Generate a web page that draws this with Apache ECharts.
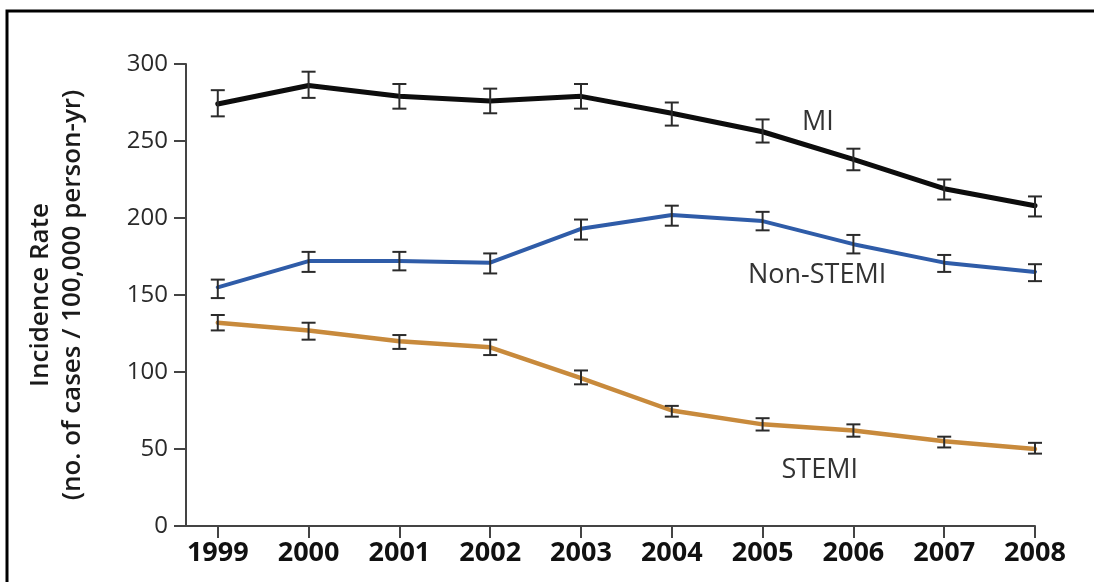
<!DOCTYPE html>
<html>
<head>
<meta charset="utf-8">
<title>Incidence Rate of MI, Non-STEMI and STEMI, 1999–2008</title>
<script src="https://cdn.jsdelivr.net/npm/echarts@6/dist/echarts.min.js"></script>
<style>
  html, body { margin: 0; padding: 0; background: #fff; }
  #chart { width: 1094px; height: 582px; }
</style>
</head>
<body>
<div id="chart"></div>
<script>
// Years on the x axis
const years = [1999, 2000, 2001, 2002, 2003, 2004, 2005, 2006, 2007, 2008];

// Incidence per 100,000 person-years with confidence limits
const miRate   = [274, 286, 279, 276, 279, 268, 256, 238, 219, 208];
const miLow    = [266, 278, 271, 268, 271, 260, 249, 231, 212, 201];
const miHigh   = [283, 295, 287, 284, 287, 275, 264, 245, 225, 214];

const nstemiRate = [155, 172, 172, 171, 193, 202, 198, 183, 171, 165];
const nstemiLow  = [148, 165, 166, 164, 186, 195, 192, 177, 165, 159];
const nstemiHigh = [160, 178, 178, 177, 199, 208, 204, 189, 176, 170];

const stemiRate = [132, 127, 120, 116, 96, 75, 66, 62, 55, 50];
const stemiLow  = [127, 121, 115, 111, 92, 71, 62, 58, 51, 47];
const stemiHigh = [137, 132, 124, 121, 101, 78, 70, 66, 58, 54];

// Y axis tick values
const yTicks = [0, 50, 100, 150, 200, 250, 300];

// Series labels and where they sit (in data coordinates)
const seriesNames = ['MI', 'Non-STEMI', 'STEMI'];
const labelSpots = [[2005.61, 262], [2005.6, 163], [2005.63, 36]];

const FONT = '"Open Sans", "Liberation Sans", sans-serif';
const colors = ['#0d0d0d', '#2f5ca8', '#c88a3c'];

function pairs(vals) { return years.map((y, i) => [y, vals[i]]); }
function bars(lo, hi) { return years.map((y, i) => [y, lo[i], hi[i]]); }

function renderErrorBar(params, api) {
  const x = api.value(0);
  const top = api.coord([x, api.value(2)]);
  const bot = api.coord([x, api.value(1)]);
  const half = 7;
  const style = { stroke: '#2b2b2b', lineWidth: 2, fill: null };
  return {
    type: 'group',
    children: [
      { type: 'line', shape: { x1: top[0], y1: top[1], x2: bot[0], y2: bot[1] }, style },
      { type: 'line', shape: { x1: top[0] - half, y1: top[1], x2: top[0] + half, y2: top[1] }, style },
      { type: 'line', shape: { x1: bot[0] - half, y1: bot[1], x2: bot[0] + half, y2: bot[1] }, style }
    ]
  };
}

function lineSeries(idx, vals, width) {
  return {
    name: seriesNames[idx],
    type: 'line',
    data: pairs(vals),
    symbol: 'none',
    z: 2,
    lineStyle: { color: colors[idx], width: width, join: 'round', cap: 'round' },
    markPoint: {
      symbol: 'circle',
      symbolSize: 0,
      silent: true,
      data: [{ coord: labelSpots[idx] }],
      label: {
        show: true,
        position: 'inside',
        formatter: seriesNames[idx],
        color: '#333',
        fontFamily: FONT,
        fontSize: 27
      }
    }
  };
}

function errorSeries(lo, hi) {
  return {
    type: 'custom',
    data: bars(lo, hi),
    renderItem: renderErrorBar,
    encode: { x: 0, y: [1, 2] },
    z: 3,
    silent: true
  };
}

const chart = echarts.init(document.getElementById('chart'), null, { renderer: 'canvas' });

chart.setOption({
  animation: false,
  backgroundColor: '#ffffff',
  grid: { left: 186, right: 59, top: 64, bottom: 56, containLabel: false, outerBoundsMode: 'none' },
  graphic: [{
    type: 'rect',
    shape: { x: 7, y: 11, width: 1200, height: 700 },
    style: { fill: null, stroke: '#000', lineWidth: 3 },
    silent: true
  }],
  xAxis: {
    type: 'value',
    min: 1998.65,
    max: 2008,
    splitLine: { show: false },
    axisLine: { show: true, lineStyle: { color: '#444', width: 2 } },
    axisTick: {
      show: true,
      customValues: years,
      length: 12,
      lineStyle: { color: '#444', width: 2 }
    },
    axisLabel: {
      customValues: years,
      formatter: v => String(v),
      color: '#111',
      fontFamily: FONT,
      fontWeight: 'bold',
      fontSize: 27,
      margin: 14
    }
  },
  yAxis: {
    type: 'value',
    min: 0,
    max: 300,
    interval: 50,
    splitLine: { show: false },
    axisLine: { show: true, lineStyle: { color: '#444', width: 2 } },
    axisTick: { show: true, length: 12, lineStyle: { color: '#444', width: 2 } },
    axisLabel: {
      customValues: yTicks,
      color: '#2a2a2a',
      fontFamily: FONT,
      fontSize: 24,
      margin: 18
    },
    name: 'Incidence Rate\n(no. of cases / 100,000 person-yr)',
    nameLocation: 'middle',
    nameGap: 97,
    nameTextStyle: {
      color: '#1a1a1a',
      fontFamily: FONT,
      fontSize: 26,
      fontWeight: 600,
      lineHeight: 32,
      align: 'center'
    }
  },
  series: [
    lineSeries(0, miRate, 5),
    lineSeries(1, nstemiRate, 4),
    lineSeries(2, stemiRate, 4.5),
    errorSeries(miLow, miHigh),
    errorSeries(nstemiLow, nstemiHigh),
    errorSeries(stemiLow, stemiHigh)
  ]
});
</script>
</body>
</html>
